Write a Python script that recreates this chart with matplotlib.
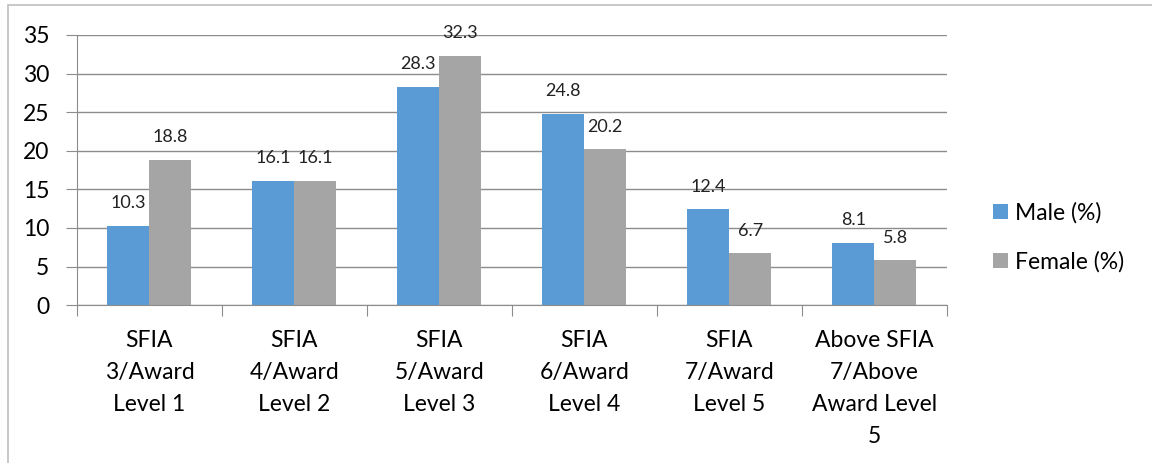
import matplotlib.pyplot as plt
import numpy as np
from matplotlib.patches import Rectangle

plt.rcParams['font.family'] = ['Lato', 'DejaVu Sans']

categories = ['SFIA\n3/Award\nLevel 1', 'SFIA\n4/Award\nLevel 2', 'SFIA\n5/Award\nLevel 3',
              'SFIA\n6/Award\nLevel 4', 'SFIA\n7/Award\nLevel 5', 'Above SFIA\n7/Above\nAward Level\n5']
male = [10.3, 16.1, 28.3, 24.8, 12.4, 8.1]
female = [18.8, 16.1, 32.3, 20.2, 6.7, 5.8]

blue = '#5b9bd5'
grey = '#a5a5a5'

fig = plt.figure(figsize=(11.52, 4.63), dpi=100)
ax = fig.add_axes([0.0668, 0.341, 0.755, 0.5836])

# outer frame of the chart object
fig.patches.append(Rectangle((0.007, -0.05), 1.1, 1.04, transform=fig.transFigure,
                             fill=False, edgecolor='#bfbfbf', lw=1.2))

x = np.arange(len(categories))
w = 0.29
b1 = ax.bar(x - w / 2, male, w, color=blue, label='Male (%)')
b2 = ax.bar(x + w / 2, female, w, color=grey, label='Female (%)')

for bars, vals in ((b1, male), (b2, female)):
    for r, v in zip(bars, vals):
        ax.text(r.get_x() + r.get_width() / 2, v + 1.9, f'{v:.1f}', ha='center', va='bottom',
                fontsize=13, color='#222222')

ax.set_xlim(-0.5, len(categories) - 0.5)
ax.set_ylim(0, 35)
ax.set_yticks(range(0, 36, 5))
ax.yaxis.grid(True, color='#8c8c8c', lw=1)
ax.set_axisbelow(True)
for s in ('top', 'right'):
    ax.spines[s].set_visible(False)
for s in ('left', 'bottom'):
    ax.spines[s].set_color('#8c8c8c')

ax.set_xticks(np.arange(-0.5, len(categories), 1))
ax.set_xticklabels([])
ax.set_xticks(x, minor=True)
ax.set_xticklabels(categories, minor=True, fontsize=16.5, linespacing=1.64)
ax.tick_params(axis='x', which='major', length=8, direction='out', color='#8c8c8c')
ax.tick_params(axis='x', which='minor', length=0, pad=18)
ax.tick_params(axis='y', length=8, color='#8c8c8c', labelsize=16.5, pad=12)

ax.legend(loc='center left', bbox_to_anchor=(1.03, 0.25), frameon=False, fontsize=16.5,
          handlelength=0.65, handleheight=0.65, handletextpad=0.3, labelspacing=1.2)

fig.savefig('out.png', dpi=100)
